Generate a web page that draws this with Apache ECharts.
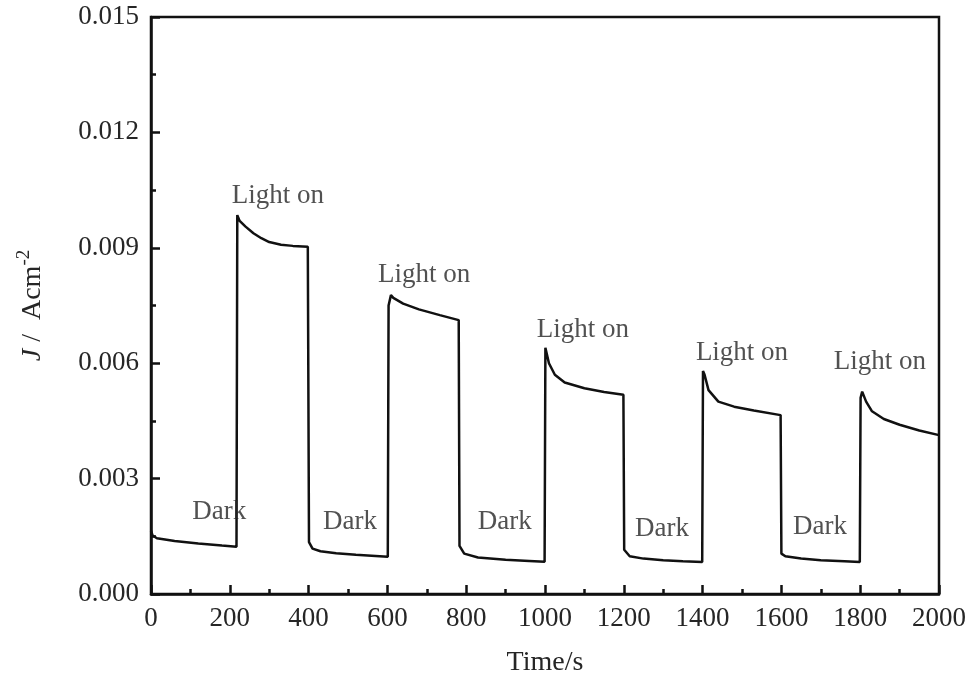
<!DOCTYPE html>
<html>
<head>
<meta charset="utf-8">
<script src="https://cdn.jsdelivr.net/npm/echarts@6/dist/echarts.min.js"></script>
<style>
html,body{margin:0;padding:0;background:#fff;}
#chart{width:970px;height:687px;}
</style>
</head>
<body>
<div id="chart"></div>
<script>
// Time (s)
var time = [0,4,15,60,120,180,217,
  219,225,240,260,280,300,330,360,398,
  401,410,430,470,520,570,601,
  603,609,615,640,680,733,781,
  783,795,830,900,960,999,
  1001,1010,1025,1050,1100,1150,1199,
  1201,1215,1250,1300,1350,1399,
  1401,1405,1415,1440,1480,1530,1598,
  1600,1610,1650,1700,1760,1799,
  1801,1805,1815,1830,1860,1900,1950,2000];
// Current density J (A cm^-2)
var current = [0.00165,0.00152,0.00145,0.00138,0.00131,0.00126,0.00123,
  0.00985,0.0097,0.00955,0.00938,0.00925,0.00915,0.00908,0.00905,0.00903,
  0.00135,0.00118,0.00111,0.00106,0.00102,0.00099,0.00097,
  0.0075,0.00777,0.0077,0.00755,0.0074,0.00725,0.00712,
  0.00125,0.00105,0.00095,0.00089,0.00086,0.00084,
  0.0064,0.0060,0.0057,0.0055,0.00535,0.00525,0.00518,
  0.00115,0.00098,0.00092,0.00088,0.00085,0.00083,
  0.0058,0.0057,0.0053,0.0050,0.00487,0.00477,0.00465,
  0.00105,0.00098,0.00092,0.00088,0.00085,0.00083,
  0.0051,0.00526,0.0050,0.00475,0.00455,0.0044,0.00425,0.00413];
// Annotations
var noteText = ['Light on','Light on','Light on','Light on','Light on','Dark','Dark','Dark','Dark','Dark'];
var noteX = [322,693,1096,1500,1850,173,505,898,1297,1698];
var noteY = [0.01035,0.00829,0.00686,0.00626,0.00603,0.00213,0.00187,0.00187,0.00169,0.00174];

var serif = '"Liberation Serif","Times New Roman",serif';
var txtColor = '#262626';

var lineData = time.map(function(t,i){return [t,current[i]];});
var noteData = noteX.map(function(x,i){return {value:[x,noteY[i]], label:{formatter:noteText[i]}};});

var chart = echarts.init(document.getElementById('chart'));
chart.setOption({
  backgroundColor:'#fff',
  animation:false,
  grid:{left:151,right:31,top:17,bottom:93,show:true,borderColor:'#111',borderWidth:2.5,backgroundColor:'transparent'},
  xAxis:{
    type:'value',min:0,max:2000,interval:200,
    name:'Time/s',nameLocation:'middle',nameGap:55,
    nameTextStyle:{fontFamily:serif,fontSize:28,color:txtColor},
    axisLine:{lineStyle:{color:'#111',width:2.5}},
    axisTick:{inside:true,length:9,lineStyle:{color:'#111',width:2.5}},
    minorTick:{show:true,splitNumber:2,length:5,lineStyle:{color:'#111',width:2.5}},
    axisLabel:{fontFamily:serif,fontSize:27,color:txtColor,margin:11,formatter:function(v){return String(v);}},
    splitLine:{show:false}
  },
  yAxis:{
    type:'value',min:0,max:0.015,interval:0.003,
    name:'{i|J} /  Acm{sup|-2}',nameLocation:'middle',nameGap:100,
    nameTextStyle:{fontFamily:serif,fontSize:28,color:txtColor,
      rich:{
        i:{fontFamily:serif,fontSize:28,fontStyle:'italic',color:txtColor,lineHeight:36},
        sup:{fontFamily:serif,fontSize:19,color:txtColor,verticalAlign:'top',lineHeight:36}
      }},
    axisLine:{lineStyle:{color:'#111',width:2.5}},
    axisTick:{inside:true,length:9,lineStyle:{color:'#111',width:2.5}},
    minorTick:{show:true,splitNumber:2,length:5,lineStyle:{color:'#111',width:2.5}},
    axisLabel:{fontFamily:serif,fontSize:27,color:txtColor,margin:12,formatter:function(v){return v.toFixed(3);}},
    splitLine:{show:false}
  },
  series:[
    {type:'line',data:lineData,showSymbol:false,symbol:'none',
     lineStyle:{color:'#111',width:2.5},z:3},
    {type:'scatter',data:noteData,symbolSize:0,
     label:{show:true,position:'inside',fontFamily:serif,fontSize:27,color:txtColor},z:4}
  ]
});
</script>
</body>
</html>
